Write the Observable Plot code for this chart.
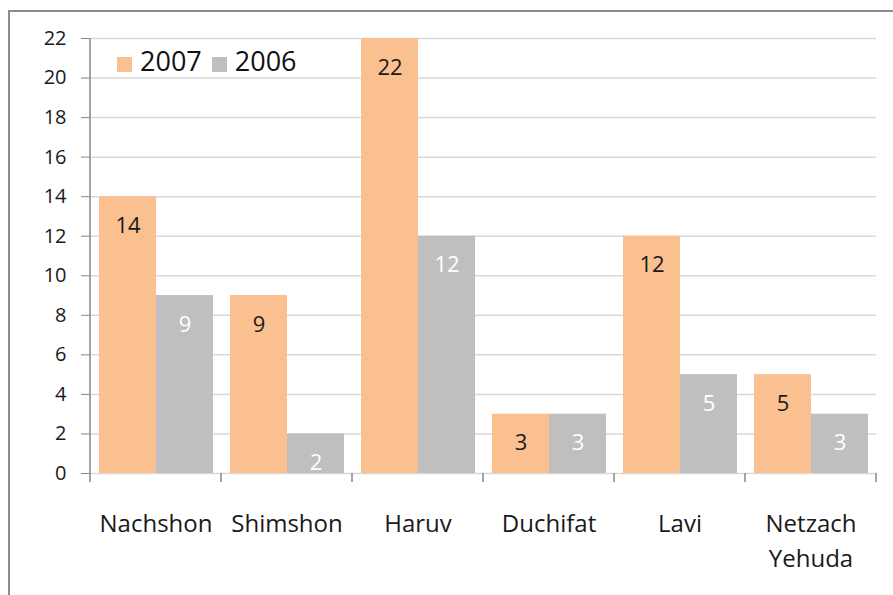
<!DOCTYPE html>
<html>
<head>
<meta charset="utf-8">
<script src="https://cdn.jsdelivr.net/npm/d3@7"></script>
<script src="https://cdn.jsdelivr.net/npm/@observablehq/plot@0.6"></script>
<style>
  html, body { margin: 0; padding: 0; background: #fff; }
  #wrap { position: relative; width: 893px; height: 595px; overflow: hidden; font-family: "Open Sans", sans-serif; }
  #frame { position: absolute; left: 8px; top: 10px; width: 1000px; height: 1000px; border: 2px solid #8c8c8c; box-sizing: border-box; pointer-events: none; }
  #legend { position: absolute; left: 117px; top: 47px; display: flex; align-items: center; font-size: 27px; color: #111; line-height: 1; }
  #legend .sw { width: 15px; height: 15px; display: inline-block; margin-top: 8px; }
  #legend .lab { margin-left: 8px; margin-right: 10px; }
</style>
</head>
<body>
<div id="wrap">
  <div id="chart"></div>
  <div id="frame"></div>
  <div id="legend"></div>
</div>
<script>
const categories = ["Nachshon", "Shimshon", "Haruv", "Duchifat", "Lavi", "Netzach Yehuda"];
const categoryLabels = ["Nachshon", "Shimshon", "Haruv", "Duchifat", "Lavi", "Netzach\nYehuda"];
const years = ["2007", "2006"];
const values2007 = [14, 9, 22, 3, 12, 5];
const values2006 = [9, 2, 12, 3, 5, 3];
const yTicks = [0, 2, 4, 6, 8, 10, 12, 14, 16, 18, 20, 22];
const colors = ["#FAC090", "#BFBFBF"];

const rows = [];
categories.forEach((c, i) => {
  rows.push({cat: c, year: "2007", value: values2007[i]});
  rows.push({cat: c, year: "2006", value: values2006[i]});
});
const labelOf = new Map(categories.map((c, i) => [c, categoryLabels[i]]));

const chart = Plot.plot({
  width: 893,
  height: 595,
  marginLeft: 89,
  marginRight: 16,
  marginTop: 38,
  marginBottom: 122,
  style: {fontFamily: "Open Sans, sans-serif", background: "transparent", overflow: "visible"},
  fx: {domain: categories, paddingInner: 0, paddingOuter: 0, axis: null},
  x: {domain: years, paddingInner: 0, paddingOuter: 0.14, axis: null},
  y: {domain: [0, 22], axis: null},
  color: {domain: years, range: colors},
  marks: [
    Plot.gridY(yTicks, {stroke: "#d9d9d9", strokeOpacity: 1, strokeWidth: 1.5}),
    Plot.barY(rows, {fx: "cat", x: "year", y: "value", fill: "year", inset: 0}),
    Plot.text(rows, {fx: "cat", x: "year", y: "value", text: "value", dy: 29, fontSize: 22,
      fill: "#1a1a1a", filter: d => d.year === "2007"}),
    Plot.text(rows, {fx: "cat", x: "year", y: "value", text: "value", dy: 29, fontSize: 22,
      fill: "#ffffff", filter: d => d.year === "2006"}),
    Plot.axisY({ticks: yTicks, tickSize: 9, tickPadding: 15, fontSize: 20, stroke: "#868686", fill: "#1a1a1a", label: null}),
    Plot.axisFx({anchor: "bottom", tickSize: 0, tickPadding: 34, fontSize: 24, lineHeight: 1.45,
      fill: "#1a1a1a", label: null, tickFormat: d => labelOf.get(d)})
  ]
});
document.getElementById("chart").appendChild(chart);

// axis line and group boundary ticks from the library's scales
const fx = chart.scale("fx");
const y = chart.scale("y");
const svg = d3.select(chart);
const y0 = y.apply(0), yTop = y.apply(22);
const xLeft = fx.apply(categories[0]);
const g = svg.append("g").attr("stroke", "#868686").attr("stroke-width", 1.5);
g.append("line").attr("x1", xLeft).attr("x2", xLeft).attr("y1", yTop).attr("y2", y0 + 9);
categories.forEach(c => {
  const xr = fx.apply(c) + fx.bandwidth;
  g.append("line").attr("x1", xr).attr("x2", xr).attr("y1", y0).attr("y2", y0 + 9);
});

// legend
const legend = document.getElementById("legend");
years.forEach((yr, i) => {
  const sw = document.createElement("span");
  sw.className = "sw";
  sw.style.background = colors[i];
  const lab = document.createElement("span");
  lab.className = "lab";
  lab.textContent = yr;
  legend.appendChild(sw);
  legend.appendChild(lab);
});
</script>
</body>
</html>
